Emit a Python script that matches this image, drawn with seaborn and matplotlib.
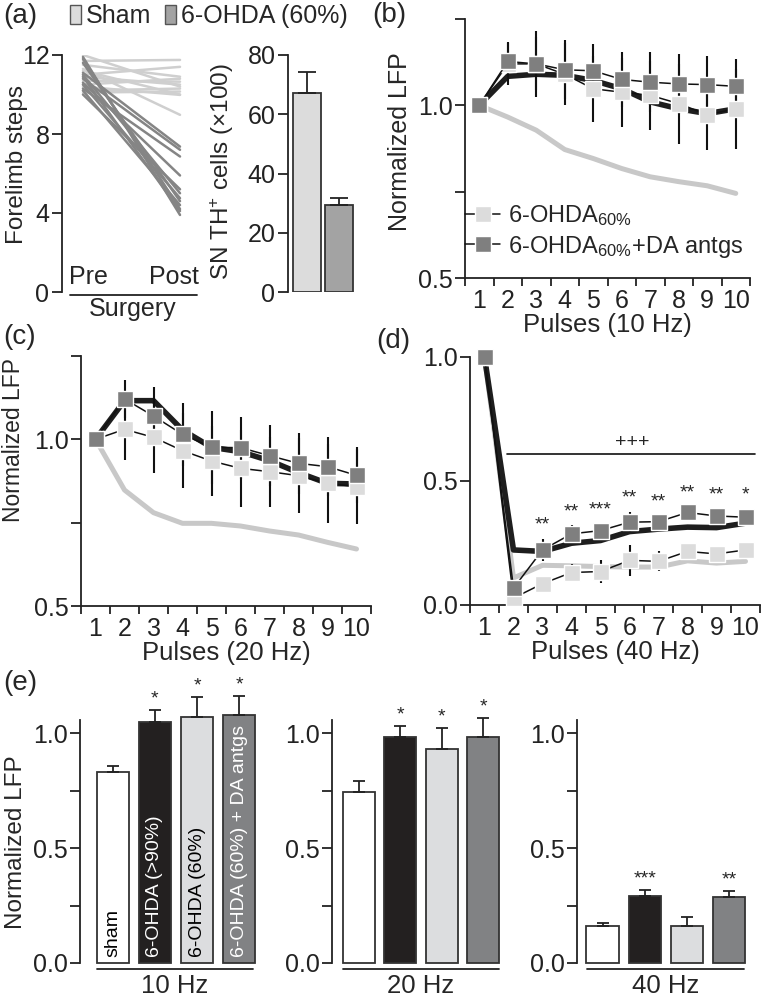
import numpy as np
import pandas as pd
import matplotlib
matplotlib.use("Agg")
import matplotlib.pyplot as plt
import seaborn as sns
from matplotlib.lines import Line2D
from matplotlib.patches import Patch

# ---- data -------------------------------------------------------------
sham_pre = [12.0, 11.7, 11.5, 11.2, 11.0, 10.9, 10.7, 10.5, 10.4, 10.2, 10.1, 11.3]
sham_post = [10.4, 11.75, 10.9, 10.0, 11.4, 10.5, 10.65, 10.8, 9.98, 10.3, 10.15, 8.97]
ohda_pre = [11.9, 11.8, 11.6, 11.1, 11.0, 10.8, 10.6, 10.5, 10.3, 10.2, 10.0, 10.9]
ohda_post = [3.9, 4.2, 4.6, 7.36, 5.0, 7.2, 5.9, 4.75, 6.86, 4.4, 5.2, 4.1]

th_groups = ["Sham", "6-OHDA (60%)"]
th_cells = [67.3, 29.2]
th_err = [7.0, 2.6]

pulses = list(range(1, 11))
pulse_labels = [str(p) for p in pulses]

b_light = [1.0, 1.12, 1.12, 1.09, 1.048, 1.038, 1.029, 1.005, 0.973, 0.99]
b_light_err = [0, 0.06, 0.096, 0.09, 0.096, 0.10, 0.10, 0.116, 0.103, 0.115]
b_dark = [1.0, 1.127, 1.12, 1.103, 1.10, 1.075, 1.067, 1.062, 1.06, 1.055]
b_dark_err = [0, 0.055, 0.077, 0.085, 0.078, 0.079, 0.087, 0.087, 0.084, 0.08]
b_black = [1.0, 1.084, 1.09, 1.087, 1.072, 1.048, 1.01, 0.99, 0.976, 0.99]
b_gray = [1.0, 0.966, 0.928, 0.872, 0.846, 0.817, 0.793, 0.779, 0.767, 0.745]

c_light = [1.0, 1.03, 1.006, 0.966, 0.935, 0.913, 0.903, 0.891, 0.868, 0.858]
c_light_err = [0, 0.092, 0.108, 0.113, 0.105, 0.115, 0.105, 0.113, 0.118, 0.112]
c_dark = [1.0, 1.121, 1.07, 1.015, 0.976, 0.975, 0.951, 0.928, 0.918, 0.892]
c_dark_err = [0, 0.057, 0.088, 0.095, 0.109, 0.093, 0.092, 0.092, 0.088, 0.084]
c_black = [1.0, 1.116, 1.116, 1.028, 0.976, 0.963, 0.936, 0.90, 0.868, 0.866]
c_gray = [1.0, 0.848, 0.78, 0.748, 0.748, 0.74, 0.725, 0.713, 0.691, 0.671]

d_light = [1.0, 0.028, 0.086, 0.131, 0.135, 0.18, 0.176, 0.216, 0.206, 0.222]
d_light_err = [0, 0.02, 0.03, 0.035, 0.045, 0.062, 0.04, 0.03, 0.03, 0.03]
d_dark = [1.0, 0.068, 0.222, 0.287, 0.30, 0.334, 0.336, 0.373, 0.359, 0.354]
d_dark_err = [0, 0.02, 0.043, 0.035, 0.03, 0.039, 0.03, 0.03, 0.03, 0.03]
d_black = [1.0, 0.222, 0.216, 0.249, 0.26, 0.296, 0.306, 0.314, 0.312, 0.33]
d_gray = [1.0, 0.109, 0.16, 0.158, 0.155, 0.153, 0.153, 0.178, 0.169, 0.176]
d_star_x = [3, 4, 5, 6, 7, 8, 9, 10]
d_star_y = [0.323, 0.377, 0.383, 0.43, 0.417, 0.453, 0.444, 0.444]
d_stars = ["**", "**", "***", "**", "**", "**", "**", "*"]

e_groups = ["sham", "6-OHDA (>90%)", "6-OHDA (60%)", "6-OHDA (60%) + DA antgs"]
e10 = [0.829, 1.048, 1.068, 1.08]
e10_err = [0.029, 0.053, 0.087, 0.082]
e10_stars = ["", "*", "*", "*"]
e20 = [0.742, 0.983, 0.932, 0.981]
e20_err = [0.048, 0.049, 0.09, 0.084]
e20_stars = ["", "*", "*", "*"]
e40 = [0.162, 0.29, 0.159, 0.287]
e40_err = [0.012, 0.026, 0.04, 0.027]
e40_stars = ["", "***", "", "**"]

# ---- style ------------------------------------------------------------
sns.set_style("ticks")
plt.rcParams["font.family"] = ["Liberation Sans", "DejaVu Sans"]
plt.rcParams["font.size"] = 17.5
plt.rcParams["mathtext.fontset"] = "custom"
plt.rcParams["mathtext.rm"] = "Liberation Sans"
plt.rcParams["mathtext.default"] = "regular"
plt.rcParams["axes.linewidth"] = 1.3
plt.rcParams["axes.edgecolor"] = "#222222"
plt.rcParams["axes.labelsize"] = 18.5
plt.rcParams["xtick.color"] = "#222222"
plt.rcParams["ytick.color"] = "#222222"
plt.rcParams["xtick.labelsize"] = 18
plt.rcParams["ytick.labelsize"] = 18
plt.rcParams["ytick.major.size"] = 7
plt.rcParams["ytick.major.width"] = 1.3
plt.rcParams["ytick.major.pad"] = 2
plt.rcParams["xtick.major.width"] = 1.3
plt.rcParams["xtick.minor.width"] = 1.3

LIGHT = "#dcdcdc"
DARK = "#7f7f7f"
GRAY_LINE = "#c8c8c8"
BLACK = "#1e1e1e"
E_COLORS = ["#ffffff", "#231f20", "#dcdddf", "#808285"]

W, H = 762, 1000
fig = plt.figure(figsize=(W / 100, H / 100), dpi=100)


def add_ax(x0, y0, x1, y1):
    return fig.add_axes([x0 / W, 1 - y1 / H, (x1 - x0) / W, (y1 - y0) / H])


def label_at(ax, text, x_px, y_px, size=18):
    # right edge of the rotated y label at x_px, centre at y_px
    pos = ax.get_position()
    ax.set_ylabel(text, fontsize=size)
    ax.yaxis.set_label_coords((x_px / W - pos.x0) / pos.width,
                              ((1 - y_px / H) - pos.y0) / pos.height)


def ftext(x_px, y_px, s, **kw):
    kw.setdefault("ha", "center")
    kw.setdefault("va", "center")
    fig.text(x_px / W, 1 - y_px / H, s, **kw)


def hline(x0, x1, y, lw=1.3):
    fig.add_artist(Line2D([x0 / W, x1 / W], [1 - y / H, 1 - y / H],
                          transform=fig.transFigure, color="#222222", lw=lw))


def unclip_errorbar(eb):
    for part in eb.lines[1] + eb.lines[2]:
        part.set_clip_on(False)


# ---- (a) forelimb steps -----------------------------------------------
ax = add_ax(62, 55, 197, 292)
rows = []
for i, (p, q) in enumerate(zip(sham_pre, sham_post)):
    rows += [("Sham", f"s{i}", 0, p), ("Sham", f"s{i}", 1, q)]
for i, (p, q) in enumerate(zip(ohda_pre, ohda_post)):
    rows += [("6-OHDA", f"o{i}", 0, p), ("6-OHDA", f"o{i}", 1, q)]
steps = pd.DataFrame(rows, columns=["group", "animal", "time", "steps"])
sns.lineplot(data=steps, x="time", y="steps", hue="group", units="animal",
             estimator=None, palette={"Sham": "#cfcfcf", "6-OHDA": "#858585"},
             lw=1.8, legend=False, ax=ax)
ax.set_xlim(-0.216, 1.175)
ax.set_ylim(0, 12)
ax.set_yticks([0, 4, 8, 12])
ax.set_xticks([])
ax.set_xlabel("")
sns.despine(ax=ax, bottom=True)
label_at(ax, "Forelimb steps", 28, 165, size=17.5)
ftext(88, 277, "Pre", fontsize=18)
ftext(174, 277, "Post", fontsize=18)
hline(70, 197, 295)
ftext(133, 309, "Surgery", fontsize=18)

# ---- (a) TH cells -----------------------------------------------------
ax = add_ax(288, 55, 355, 292)
sns.barplot(x=th_groups, y=th_cells, hue=th_groups, palette=[LIGHT, "#a3a3a3"],
            legend=False, width=0.88, edgecolor="#333333", linewidth=1.3, ax=ax)
ax.errorbar([0, 1], th_cells, yerr=[[0, 0], th_err], fmt="none", ecolor="#222222",
            elinewidth=1.3, capsize=6.5, capthick=1.3)
ax.set_xlim(-0.59, 1.5)
ax.set_ylim(0, 80)
ax.set_yticks([0, 20, 40, 60, 80])
ax.set_xticks([])
ax.set_xlabel("")
sns.despine(ax=ax, bottom=True)
label_at(ax, "SN TH$^{+}$ cells (×100)", 236, 172, size=17.5)

fig.legend([Patch(facecolor=LIGHT, edgecolor="#555555"),
            Patch(facecolor="#a3a3a3", edgecolor="#555555")],
           ["Sham", "6-OHDA (60%)"], loc="upper left",
           bbox_to_anchor=(70 / W, 1 - 4 / H), ncol=2, frameon=False,
           handlelength=0.45, handleheight=0.8, handletextpad=0.18,
           columnspacing=0.55, borderpad=0, borderaxespad=0, fontsize=18)


# ---- (b)-(d) pulse trains ---------------------------------------------
def pulse_panel(ax, light, light_err, dark, dark_err, black, gray):
    sns.lineplot(x=pulses, y=gray, color=GRAY_LINE, lw=3.6, ax=ax, zorder=1,
                 clip_on=False)
    sns.lineplot(x=pulses, y=black, color=BLACK, lw=4, ax=ax, zorder=2,
                 clip_on=False)
    ax.errorbar(pulses, light, yerr=light_err, fmt="none", ecolor="#111111",
                elinewidth=1.5, zorder=3)
    ax.errorbar(pulses, dark, yerr=dark_err, fmt="none", ecolor="#111111",
                elinewidth=1.5, zorder=3)
    sns.lineplot(x=pulses, y=light, color="#111111", lw=1.1, marker="s",
                 markersize=11.5, markerfacecolor=LIGHT, markeredgecolor="white",
                 markeredgewidth=1, ax=ax, zorder=4, clip_on=False)
    sns.lineplot(x=pulses, y=dark, color="#111111", lw=1.1, marker="s",
                 markersize=11.5, markerfacecolor=DARK, markeredgecolor="white",
                 markeredgewidth=1, ax=ax, zorder=5, clip_on=False)
    ax.set_xlim(0.5, 10.5)
    ax.set_xticks(pulses)
    ax.set_xticklabels(pulse_labels)
    ax.set_xticks(np.arange(0.5, 11, 1), minor=True)
    ax.tick_params(axis="x", which="major", length=0, pad=8)
    ax.tick_params(axis="x", which="minor", length=6, width=1.3)
    ax.xaxis.labelpad = 0
    sns.despine(ax=ax)


ax = add_ax(465, 19, 750, 278)
pulse_panel(ax, b_light, b_light_err, b_dark, b_dark_err, b_black, b_gray)
ax.set_ylim(0.5, 1.25)
ax.set_yticks([0.5, 0.75, 1.0, 1.25])
ax.set_yticklabels(["0.5", "", "1.0", ""])
ax.set_xlabel("Pulses (10 Hz)")
label_at(ax, "Normalized LFP", 412, 142)
leg_handles = [Line2D([], [], color="#111111", lw=1.1, marker="s", ms=11,
                      mfc=LIGHT, mec="white", mew=1),
               Line2D([], [], color="#111111", lw=1.1, marker="s", ms=11,
                      mfc=DARK, mec="white", mew=1)]
ax.legend(leg_handles, [r"6-OHDA$_{60\%}$", r"6-OHDA$_{60\%}$+DA antgs"],
          loc="upper left", bbox_to_anchor=(0.0, 0.29), frameon=False,
          handlelength=1.5, handletextpad=0.3, labelspacing=0.25,
          borderaxespad=0, borderpad=0, fontsize=17)

ax = add_ax(81, 356, 371, 606)
pulse_panel(ax, c_light, c_light_err, c_dark, c_dark_err, c_black, c_gray)
ax.set_ylim(0.5, 1.25)
ax.set_yticks([0.5, 0.75, 1.0, 1.25])
ax.set_yticklabels(["0.5", "", "1.0", ""])
ax.set_xlabel("Pulses (20 Hz)")
label_at(ax, "Normalized LFP", 25, 440, size=16.5)

ax = add_ax(470, 357, 760, 605)
pulse_panel(ax, d_light, d_light_err, d_dark, d_dark_err, d_black, d_gray)
ax.set_ylim(0, 1.0)
ax.set_yticks([0, 0.5, 1.0])
ax.set_yticklabels(["0.0", "0.5", "1.0"])
ax.set_xlabel("Pulses (40 Hz)")
ax.plot([1.78, 10.33], [0.609, 0.609], color="#111111", lw=1.2)
ax.text(6.1, 0.622, "+++", ha="center", va="bottom", fontsize=14)
for x, y, s in zip(d_star_x, d_star_y, d_stars):
    ax.text(x, y, s, ha="center", va="center", fontsize=14)


# ---- (e) bars ---------------------------------------------------------
def bar_panel(ax, vals, errs, stars, left):
    sns.barplot(x=e_groups, y=vals, hue=e_groups, palette=E_COLORS, legend=False,
                width=0.77, edgecolor="#333333", linewidth=1.3, ax=ax)
    for p in ax.patches:
        p.set_clip_on(False)
    eb = ax.errorbar(range(4), vals, yerr=[[0] * 4, errs], fmt="none",
                     ecolor="#222222", elinewidth=1.3, capsize=4.5, capthick=1.3)
    unclip_errorbar(eb)
    for i, (v, e, s) in enumerate(zip(vals, errs, stars)):
        if s:
            ax.annotate(s, (i, v + e), xytext=(0, 2), textcoords="offset points",
                        ha="center", va="bottom", fontsize=14,
                        annotation_clip=False)
    ax.set_xlim(left, 3.4)
    ax.set_ylim(0, 1.057)
    ax.set_yticks([0, 0.25, 0.5, 0.75, 1.0])
    ax.set_yticklabels(["0.0", "", "0.5", "", "1.0"])
    ax.set_xticks([])
    ax.set_xlabel("")
    ax.set_ylabel("")
    sns.despine(ax=ax, bottom=True)


ax = add_ax(80, 720, 256, 963)
bar_panel(ax, e10, e10_err, e10_stars, -0.78)
label_at(ax, "Normalized LFP", 27, 842, size=17.5)
for i, (g, c) in enumerate(zip(e_groups, ["black", "white", "black", "white"])):
    ax.text(i, 0.025, g, rotation=90, ha="center", va="bottom", color=c,
            fontsize=14)

ax = add_ax(332, 720, 500, 963)
bar_panel(ax, e20, e20_err, e20_stars, -0.64)

ax = add_ax(577, 720, 746, 963)
bar_panel(ax, e40, e40_err, e40_stars, -0.61)

hline(97, 253, 969)
hline(343, 499, 969)
hline(587, 744, 969)
ftext(175, 986, "10 Hz", fontsize=18.5)
ftext(421, 986, "20 Hz", fontsize=18.5)
ftext(666, 986, "40 Hz", fontsize=18.5)

# ---- panel letters ----------------------------------------------------
for s, x, y in [("(a)", 3, 16), ("(b)", 372, 15), ("(c)", 3, 337),
                ("(d)", 376, 341), ("(e)", 3, 683)]:
    ftext(x, y, s, ha="left", fontsize=20)

fig.savefig("out.png", dpi=100)
